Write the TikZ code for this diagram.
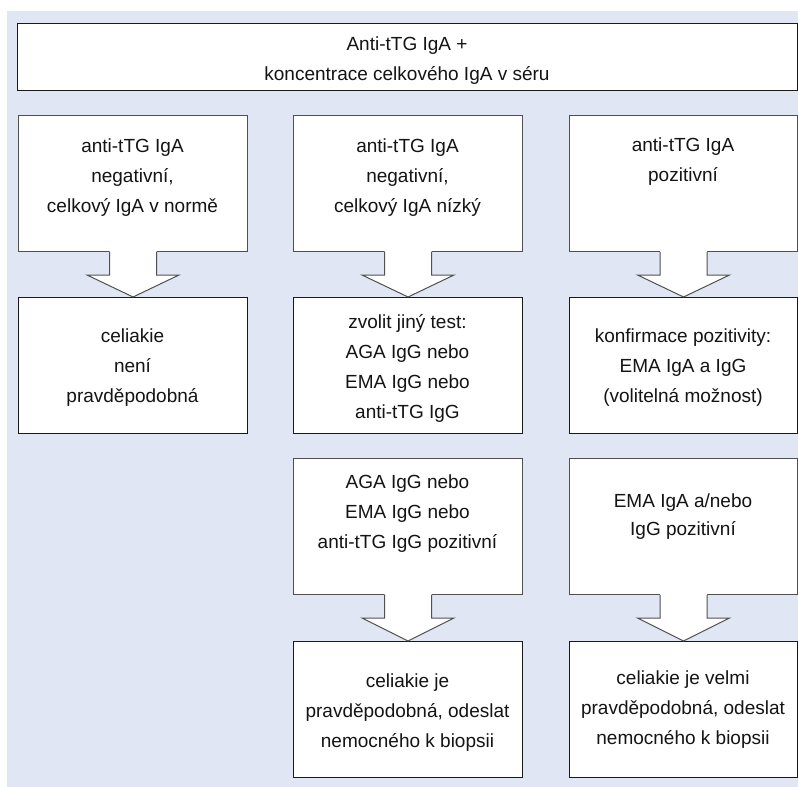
\documentclass[tikz,border=0pt]{standalone}
\usepackage{fontspec}
\setmainfont{Liberation Sans}
\usetikzlibrary{calc}

\definecolor{panelbg}{RGB}{224,230,243}
\definecolor{boxline}{RGB}{25,25,25}
\definecolor{calloutline}{RGB}{80,80,80}
\definecolor{ink}{RGB}{20,20,20}

\tikzset{
  plainbox/.style={draw=boxline, line width=1.1pt, fill=white, inner sep=0pt,
    minimum width=229pt, minimum height=136pt, anchor=north west},
  callbox/.style={draw=calloutline, line width=1pt, fill=white, inner sep=0pt,
    minimum width=229pt, minimum height=136pt, anchor=north west},
  boxtext/.style={font=\fontsize{19}{30}\selectfont, text=ink, align=center, inner sep=0pt},
}

% white block arrow leaving the bottom edge of box #1 and pointing at box #2
\newcommand\blockarrow[2]{%
  \fill[white] ($(#1.south)+(-23.5,-1)$) -- ($(#1.south)+(-23.5,23)$)
    -- ($(#1.south)+(-46,23)$) -- (#2.north) -- ($(#1.south)+(46,23)$)
    -- ($(#1.south)+(23.5,23)$) -- ($(#1.south)+(23.5,-1)$) -- cycle;
  \draw[calloutline, line width=1pt, line join=miter]
    ($(#1.south)+(-23.5,0)$) -- ($(#1.south)+(-23.5,23)$)
    -- ($(#1.south)+(-46,23)$) -- (#2.north) -- ($(#1.south)+(46,23)$)
    -- ($(#1.south)+(23.5,23)$) -- ($(#1.south)+(23.5,0)$);
}

\begin{document}
\begin{tikzpicture}[x=1pt, y=-1pt]
  \useasboundingbox (0,0) rectangle (798,787);
  \fill[panelbg] (7,11) rectangle (798,787);

  % header
  \node[plainbox, minimum width=780pt, minimum height=67pt] (top) at (17,23) {};
  \node[boxtext] (toptext) at (407,61) {Anti-tTG IgA +\\koncentrace celkového IgA v séru};

  % first row: test results
  \node[callbox] (neg) at (18,115) {};
  \node[callbox] (low) at (293,115) {};
  \node[callbox, minimum width=228pt] (pos) at (569,115) {};

  % second row
  \node[plainbox] (unlikely) at (18,297) {};
  \node[plainbox] (othertest) at (293,297) {};
  \node[plainbox, minimum width=228pt] (confirm) at (569,297) {};

  % third row
  \node[callbox] (iggpos) at (293,458) {};
  \node[callbox, minimum width=228pt] (emapos) at (569,458) {};

  % fourth row
  \node[plainbox] (likely) at (293,641) {};
  \node[plainbox, minimum width=228pt] (verylikely) at (569,641) {};

  % block arrows
  \blockarrow{neg}{unlikely}
  \blockarrow{low}{othertest}
  \blockarrow{pos}{confirm}
  \blockarrow{iggpos}{likely}
  \blockarrow{emapos}{verylikely}

  % texts
  \node[boxtext] (negtext) at (132.5,178) {anti-tTG IgA\\negativní,\\celkový IgA v normě};
  \node[boxtext] (lowtext) at (407.5,178) {anti-tTG IgA\\negativní,\\celkový IgA nízký};
  \node[boxtext] (postext) at (683,162) {anti-tTG IgA\\pozitivní};

  \node[boxtext] (unlikelytext) at (132.5,368) {celiakie\\není\\pravděpodobná};
  \node[boxtext] (othertesttext) at (407.5,368) {zvolit jiný test:\\AGA IgG nebo\\EMA IgG nebo\\anti-tTG IgG};
  \node[boxtext] (confirmtext) at (683,368) {konfirmace pozitivity:\\EMA IgA a IgG\\(volitelná možnost)};

  \node[boxtext] (iggpostext) at (407.5,514) {AGA IgG nebo\\EMA IgG nebo\\anti-tTG IgG pozitivní};
  \node[boxtext, font=\fontsize{19}{28}\selectfont] (emapostext) at (683,517) {EMA IgA a/nebo\\IgG pozitivní};

  \node[boxtext] (likelytext) at (407.5,713) {celiakie je\\pravděpodobná, odeslat\\nemocného k biopsii};
  \node[boxtext] (verylikelytext) at (683,710) {celiakie je velmi\\pravděpodobná, odeslat\\nemocného k biopsii};
\end{tikzpicture}
\end{document}
